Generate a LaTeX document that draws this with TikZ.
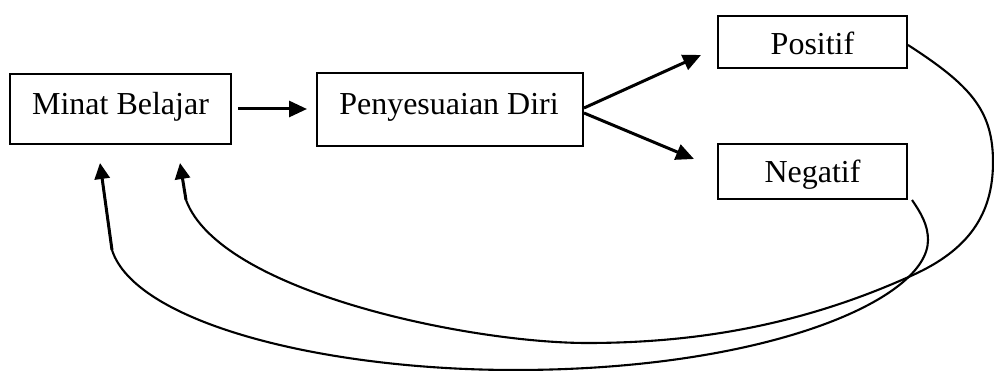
\documentclass[tikz,border=0pt]{standalone}
\usepackage{fontspec}
\setmainfont{Liberation Serif}
\usetikzlibrary{arrows.meta}
\begin{document}
\begin{tikzpicture}[x=1pt,y=-1pt,
  box/.style={draw, line width=2pt, inner sep=0pt},
  lbl/.style={inner sep=0pt, anchor=base, font=\fontsize{32}{38}\selectfont},
  flow/.style={line width=3pt, -{Triangle[length=18pt,width=16pt]}},
  back/.style={line width=2.1pt},
  tipline/.style={line width=3pt, -{Triangle[length=16pt,width=15pt]}}]
\useasboundingbox (0,0) rectangle (994,371);

% boxes
\node[box, minimum width=221pt, minimum height=70pt] (mb) at (120.5,109) {};
\node[lbl] (mbT) at (120.5,115) {Minat Belajar};
\node[box, minimum width=266pt, minimum height=73pt] (pd) at (450,109.5) {};
\node[lbl] (pdT) at (449,115) {Penyesuaian Diri};
\node[box, minimum width=189pt, minimum height=52pt] (pos) at (812.5,42) {};
\node[lbl] (posT) at (812.5,55) {Positif};
\node[box, minimum width=189pt, minimum height=55pt] (neg) at (812.5,171.5) {};
\node[lbl] (negT) at (812.5,183) {Negatif};

% arrow end points
\coordinate (t1) at (307,109);
\coordinate (t2) at (701,55);
\coordinate (t3) at (694,159);
\coordinate (pa) at (186,200);
\coordinate (pt) at (180,163);
\coordinate (na) at (112,250);
\coordinate (nt) at (100,163);

% forward arrows
\draw[flow] ([xshift=6pt]mb.east) -- (t1);
\draw[flow] ([yshift=1.5pt]pd.east) -- (t2);
\draw[flow] ([yshift=-3.5pt]pd.east) -- (t3);

% feedback curve from Positif
\draw[back] ([yshift=-3pt]pos.east) .. controls (970,85) and (993,110) .. (993,162)
  .. controls (993,215) and (968,250) .. (913,275)
  .. controls (803,325) and (697,343) .. (587,343)
  .. controls (470,343) and (220,292) .. (pa);
\draw[tipline] (pa) -- (pt);

% feedback curve from Negatif
\draw[back] ([xshift=4pt]neg.south east) .. controls (921,213) and (928,225) .. (928,240)
  .. controls (928,300) and (765,370) .. (515,370)
  .. controls (320,370) and (135,322) .. (na);
\draw[tipline] (na) -- (nt);
\end{tikzpicture}
\end{document}
